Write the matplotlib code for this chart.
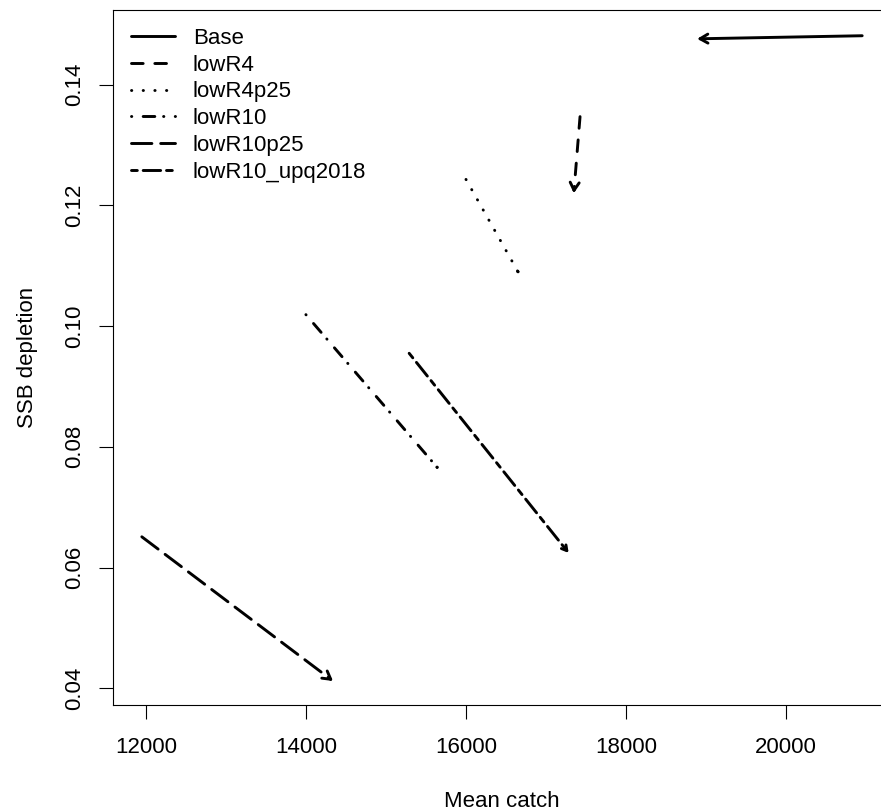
import numpy as np
import matplotlib.pyplot as plt

# scenario arrows: (start) -> (end), mean catch vs SSB depletion
scenarios = ['Base', 'lowR4', 'lowR4p25', 'lowR10', 'lowR10p25', 'lowR10_upq2018']
catch_start = [20950, 17425, 16000, 14000, 11950, 15290]
catch_end = [18925, 17350, 16650, 15640, 14310, 17260]
depl_start = [0.1481, 0.1347, 0.1243, 0.1019, 0.0651, 0.0955]
depl_end = [0.1476, 0.1225, 0.1090, 0.0766, 0.0415, 0.0628]

x_ticks = [12000, 14000, 16000, 18000, 20000]
y_ticks = [0.04, 0.06, 0.08, 0.10, 0.12, 0.14]

# R lty 1..6 patterns (units of line width)
k = 1.0
styles = ['-',
          (0, (4 * k, 4 * k)),
          (0, (0.1, 3 * k + 0.9)),
          (0, (0.1, 3 * k + 0.9, 4 * k, 3 * k)),
          (0, (7 * k, 3 * k)),
          (0, (2 * k, 2 * k, 6 * k, 2 * k))]
lw = 2.1

plt.rcParams['font.family'] = ['Liberation Sans', 'DejaVu Sans']
plt.rcParams['font.size'] = 16

fig = plt.figure(figsize=(8.81, 8.11), dpi=100)
W, H = 881, 811
ax = fig.add_axes([113 / W, (H - 705) / H, (891 - 113) / W, (705 - 10) / H])

# R style 4% padding
allx = catch_start + catch_end
ally = depl_start + depl_end
dx = (max(allx) - min(allx)) * 0.04
dy = (max(ally) - min(ally)) * 0.04
ax.set_xlim(min(allx) - dx, max(allx) + dx)
ax.set_ylim(min(ally) - dy, max(ally) + dy)

for i, name in enumerate(scenarios):
    x0, x1 = catch_start[i], catch_end[i]
    y0, y1 = depl_start[i], depl_end[i]
    ax.plot([x0, x1], [y0, y1], color='black', lw=lw, ls=styles[i],
            solid_capstyle='round', dash_capstyle='round', label=name)

fig.canvas.draw()
trans = ax.transData
inv = trans.inverted()
head = 9.0
for i in range(len(scenarios)):
    p0 = trans.transform((catch_start[i], depl_start[i]))
    p1 = trans.transform((catch_end[i], depl_end[i]))
    d = p0 - p1
    ang = np.arctan2(d[1], d[0])
    for s in (np.pi / 6, -np.pi / 6):
        q = p1 + head * np.array([np.cos(ang + s), np.sin(ang + s)])
        pts = inv.transform(np.vstack([p1, q]))
        ax.plot(pts[:, 0], pts[:, 1], color='black', lw=lw, ls=styles[i],
                solid_capstyle='round', dash_capstyle='round')

ax.set_xticks(x_ticks)
ax.set_xticklabels([str(v) for v in x_ticks])
ax.set_yticks(y_ticks)
ax.set_yticklabels(['%.2f' % v for v in y_ticks], rotation=90, va='center')
ax.tick_params(direction='out', length=10, width=0.8, labelsize=16)
ax.tick_params(axis='x', pad=13)
ax.tick_params(axis='y', pad=10)
for sp in ax.spines.values():
    sp.set_linewidth(0.8)

ax.set_xlabel('Mean catch', labelpad=24)
ax.set_ylabel('SSB depletion', labelpad=19)

ax.legend(loc='upper left', frameon=False, handlelength=2.0, handletextpad=0.8,
          labelspacing=0.26, borderaxespad=0.4, fontsize=16)

fig.savefig('out.png', dpi=100)
